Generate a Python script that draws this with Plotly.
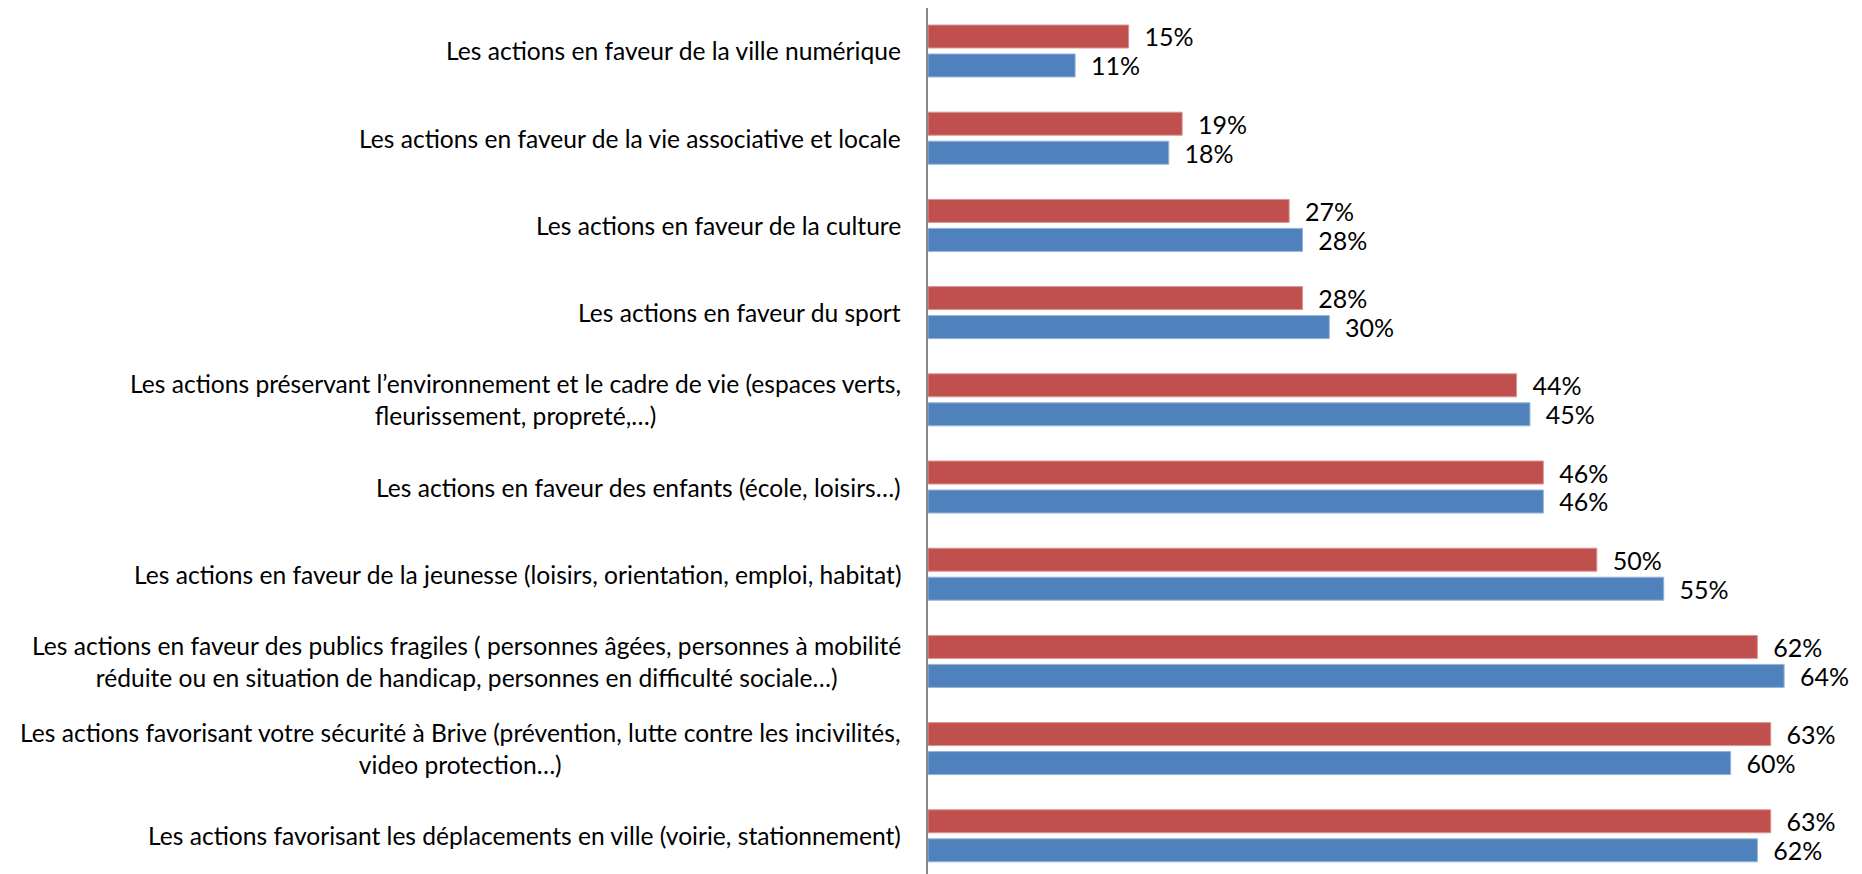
import plotly.graph_objects as go

categories = [
    "Les actions en faveur de la ville numérique",
    "Les actions en faveur de la vie associative et locale",
    "Les actions en faveur de la culture",
    "Les actions en faveur du sport",
    "Les actions préservant l’environnement et le cadre de vie (espaces verts,<br>fleurissement, propreté,…)",
    "Les actions en faveur des enfants (école, loisirs…)",
    "Les actions en faveur de la jeunesse (loisirs, orientation, emploi, habitat)",
    "Les actions en faveur des publics fragiles ( personnes âgées, personnes à mobilité<br>réduite ou en situation de handicap, personnes en difficulté sociale…)",
    "Les actions favorisant votre sécurité à Brive (prévention, lutte contre les incivilités,<br>video protection…)",
    "Les actions favorisant les déplacements en ville (voirie, stationnement)",
]
series_red = [15, 19, 27, 28, 44, 46, 50, 62, 63, 63]
series_blue = [11, 18, 28, 30, 45, 46, 55, 64, 60, 62]

FONT = "Lato, 'Open Sans', sans-serif"
RED = "#C0504D"
BLUE = "#4F81BD"

fig = go.Figure()
fig.add_trace(go.Bar(
    name="Série 1", y=categories, x=series_red, orientation="h",
    marker=dict(color=RED, line=dict(color="#D99694", width=1)),
    texttemplate="\u00a0\u00a0%{x}%", textposition="outside",
    textfont=dict(family=FONT, size=25, color="#000000"),
    cliponaxis=False, constraintext="none",
))
fig.add_trace(go.Bar(
    name="Série 2", y=categories, x=series_blue, orientation="h",
    marker=dict(color=BLUE, line=dict(color="#95B3D7", width=1)),
    texttemplate="\u00a0\u00a0%{x}%", textposition="outside",
    textfont=dict(family=FONT, size=25, color="#000000"),
    cliponaxis=False, constraintext="none",
))

annotations = []
for c in categories:
    annotations.append(dict(
        x=0, xref="paper", y=c, yref="y", text=c, showarrow=False,
        xanchor="right", yanchor="middle", align="center", xshift=-25,
        font=dict(family=FONT, size=24.6, color="#000000"),
    ))

fig.update_layout(
    width=1854, height=866,
    margin=dict(l=920, r=11, t=0, b=0, pad=0),
    paper_bgcolor="white", plot_bgcolor="white",
    barmode="group", bargap=0.335, bargroupgap=0.207,
    showlegend=False,
    annotations=annotations,
    font=dict(family=FONT, size=25, color="#000000"),
)
fig.update_xaxes(range=[0, 69], visible=False, showgrid=False, zeroline=False)
fig.update_yaxes(
    type="category", categoryorder="array", categoryarray=categories,
    range=[9.438, -0.493], showticklabels=False, showgrid=False, zeroline=False,
    showline=True, linecolor="#868686", linewidth=2, ticks="",
)

fig.write_html("out.html")
